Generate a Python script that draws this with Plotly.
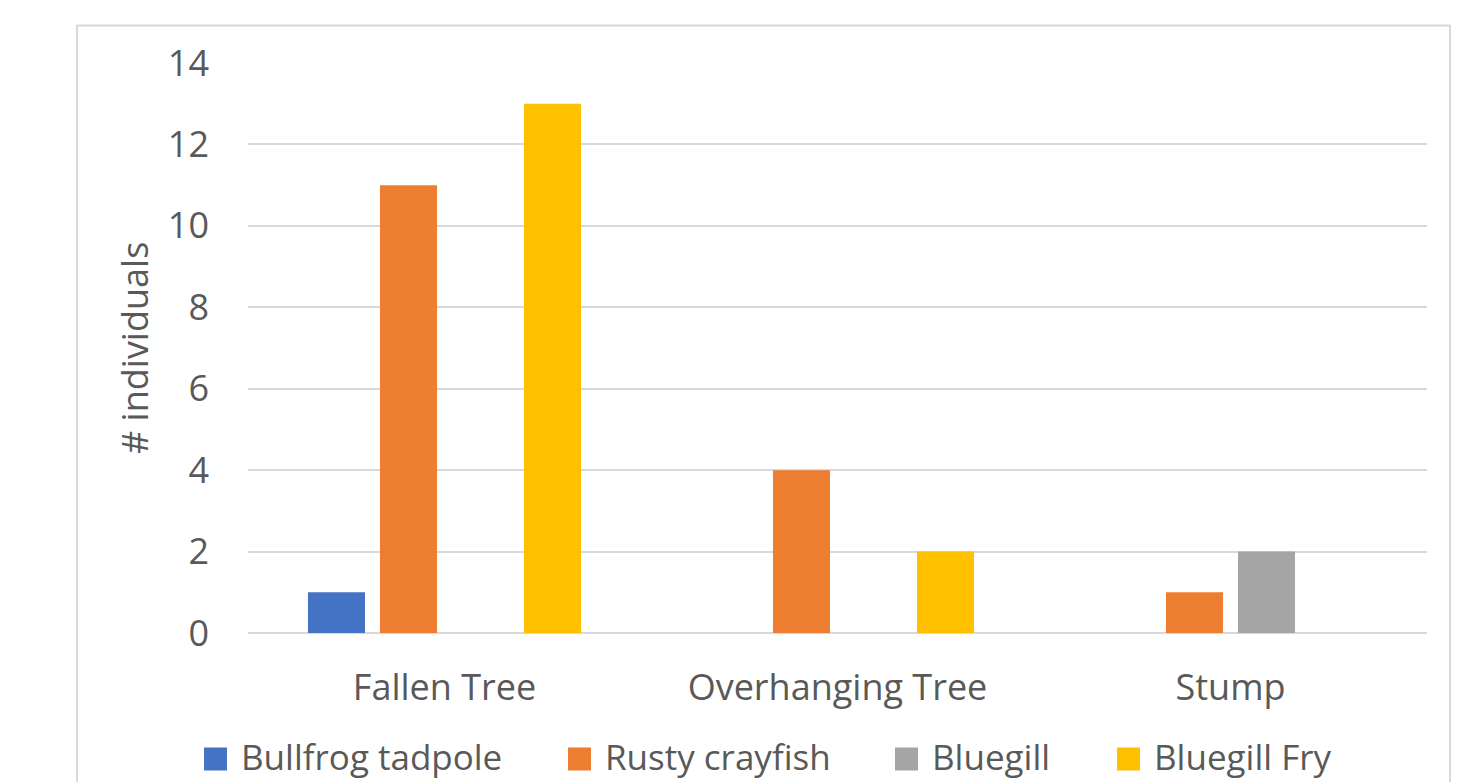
import plotly.graph_objects as go

# Habitat categories and counts per species
habitats = ["Fallen Tree", "Overhanging Tree", "Stump"]
species = ["Bullfrog tadpole", "Rusty crayfish", "Bluegill", "Bluegill Fry"]
bullfrog_tadpole = [1, 0, 0]
rusty_crayfish = [11, 4, 1]
bluegill = [0, 0, 2]
bluegill_fry = [13, 2, 0]
y_ticks = [0, 2, 4, 6, 8, 10, 12, 14]

series_values = [bullfrog_tadpole, rusty_crayfish, bluegill, bluegill_fry]
colors = ["#4472C4", "#ED7D31", "#A5A5A5", "#FFC000"]

W, H = 1466, 782
ML, MR, MT, MB = 248, 39, 63, 149
PW, PH = W - ML - MR, H - MT - MB


def px(x):
    return (x - ML) / PW


def py(y):
    return (H - MB - y) / PH


FONT = "Open Sans"
TXT = "#595959"
GRID = "#d9d9d9"

fig = go.Figure()
for name, vals, col in zip(species, series_values, colors):
    fig.add_trace(go.Bar(x=habitats, y=vals, name=name, marker_color=col,
                         marker_line_width=0, showlegend=False))

shapes = [dict(type="rect", xref="paper", yref="paper",
               x0=px(77), x1=px(1450), y0=py(25.5), y1=py(820),
               line=dict(color=GRID, width=2), fillcolor="rgba(0,0,0,0)",
               layer="below")]
annotations = [dict(text="# individuals", xref="paper", yref="paper",
                    x=px(134), y=0.5, xanchor="center", yanchor="middle",
                    textangle=-90, showarrow=False,
                    font=dict(family=FONT, size=36, color=TXT))]

# Legend row along the bottom
sq_left = [204, 568, 895, 1117]
legend_y = 759
for name, col, x0 in zip(species, colors, sq_left):
    shapes.append(dict(type="rect", xref="paper", yref="paper",
                       x0=px(x0), x1=px(x0 + 23), y0=py(legend_y + 11.5),
                       y1=py(legend_y - 11.5), line=dict(width=0), fillcolor=col))
    annotations.append(dict(text=name, xref="paper", yref="paper",
                            x=px(x0 + 36), y=py(legend_y - 3), xanchor="left",
                            yanchor="middle", showarrow=False, borderpad=0,
                            font=dict(family=FONT, size=35, color=TXT)))

fig.update_layout(
    width=W, height=H,
    margin=dict(l=ML, r=MR, t=MT, b=MB),
    paper_bgcolor="white", plot_bgcolor="white",
    barmode="group", bargap=0.267, bargroupgap=0.208,
    shapes=shapes, annotations=annotations,
    font=dict(family=FONT, size=36, color=TXT),
)
fig.update_xaxes(showgrid=False, showline=False, zeroline=False, ticks="",
                 tickfont=dict(family=FONT, size=36, color=TXT),
                 ticklabelstandoff=30)
fig.update_yaxes(range=[0, 14], tickvals=y_ticks, showgrid=True,
                 gridcolor=GRID, gridwidth=1.5, zeroline=True,
                 zerolinecolor=GRID, zerolinewidth=1.5, showline=False,
                 ticks="", tickfont=dict(family=FONT, size=36, color=TXT),
                 ticklabelstandoff=38)

fig.write_html("out.html")
